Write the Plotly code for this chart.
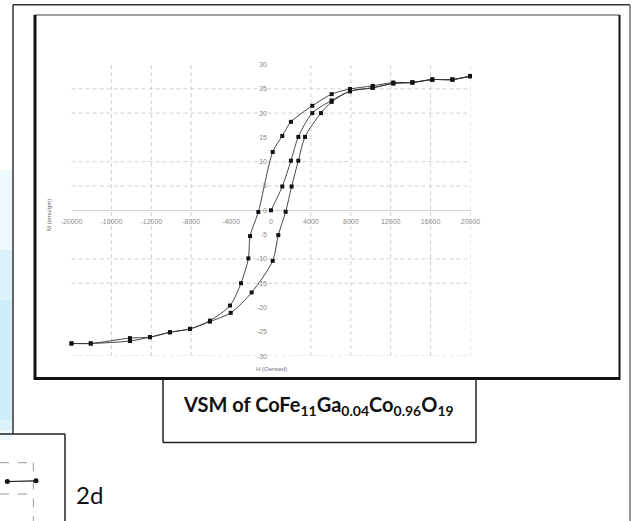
import plotly.graph_objects as go

# ---------------- data ----------------
# initial magnetisation curve
init_H = [0, 1130, 2000, 2740, 4140, 6080, 7920, 10190, 12260, 14170, 16170, 18180, 19950]
init_M = [0, 4.9, 10.2, 15.1, 20.0, 22.6, 24.5, 25.2, 26.1, 26.3, 26.9, 26.9, 27.6]

# descending branch (+H -> -H)
desc_H = [19950, 18180, 16170, 14170, 12260, 10190, 7920, 6080, 4140, 2000, 1130, 170,
          -1270, -2100, -2270, -3010, -4110, -6120, -8120, -10130, -12130, -14140, -18070, -20000]
desc_M = [27.6, 26.9, 26.9, 26.3, 26.3, 25.6, 24.95, 23.9, 21.5, 18.2, 15.3, 12.0,
          -0.35, -5.3, -9.9, -15.0, -19.6, -22.7, -24.4, -25.1, -26.1, -26.3, -27.4, -27.4]

# ascending branch (-H -> +H)
asc_H = [-20000, -18070, -14140, -12130, -10130, -8120, -6120, -4040, -1940, 170, 730, 1470,
         2070, 2740, 3410, 5010, 6080, 7920, 10190, 12260, 14170, 16170, 18180, 19950]
asc_M = [-27.4, -27.4, -26.9, -26.1, -25.1, -24.4, -22.9, -21.1, -16.9, -10.4, -5.1, -0.3,
         4.9, 10.2, 15.1, 20.0, 22.3, 24.5, 25.2, 26.1, 26.3, 26.9, 26.9, 27.6]

x_ticks = [-20000, -16000, -12000, -8000, -4000, 0, 4000, 8000, 12000, 16000, 20000]
x_ticktext = ["-20000", "-16000", "-12000", "-8000", "-4000", "0", "4000", "8000", "12000", "16000", "20000"]
y_ticks = [-30, -25, -20, -15, -10, -5, 0, 5, 10, 15, 20, 25, 30]
y_ticktext = ["-30", "-25", "-20", "-15", "-10", "-5", "0", "5", "10", "15", "20", "25", "30"]

grid_y = [25, 20, 10, 5, -10, -15, -30]
grid_x = [-16000, -12000, -8000, 4000, 8000, 12000, 16000, 20000]

# fragment of a neighbouring chart (bottom-left)
frag_H = [16100, 20400]
frag_M = [27.0, 27.1]
frag_grid_y = [30, 25]
frag_grid_x = [20000]

caption = "VSM of CoFe<sub>11</sub>Ga<sub>0.04</sub>Co<sub>0.96</sub>O<sub>19</sub>"
x_title = "H (Oersted)"
y_title = "M (emu/gm)"
side_label = "2d"

# ---------------- layout helpers ----------------
W, H = 640, 521
def px(p):
    return p / W
def py(p):
    return 1 - p / H

fig = go.Figure()

line_style = dict(color="#333333", width=0.9)
marker_style = dict(color="#111", size=4, symbol="square")

for hx, my in [(init_H, init_M), (desc_H, desc_M), (asc_H, asc_M)]:
    fig.add_trace(go.Scatter(x=hx, y=my, mode="lines+markers",
                             line=dict(shape="spline", smoothing=0.8, **line_style),
                             marker=marker_style, showlegend=False,
                             xaxis="x", yaxis="y", cliponaxis=False))

fig.add_trace(go.Scatter(x=frag_H, y=frag_M, mode="lines+markers",
                         line=dict(color="#111", width=1.2),
                         marker=dict(color="#111", size=5, symbol="circle"),
                         showlegend=False, xaxis="x2", yaxis="y2", cliponaxis=False))

shapes = []
grid_line = dict(color="#d0d0d0", width=1, dash="4px,3px")
for gy in grid_y:
    shapes.append(dict(type="line", xref="x", yref="y", x0=-20000, x1=20000, y0=gy, y1=gy,
                       line=grid_line, layer="below"))
for gx in grid_x:
    shapes.append(dict(type="line", xref="x", yref="y", x0=gx, x1=gx, y0=-30, y1=30,
                       line=grid_line, layer="below"))
for gy in frag_grid_y:
    shapes.append(dict(type="line", xref="x2", yref="y2", x0=15000, x1=20000, y0=gy, y1=gy,
                       line=dict(color="#999", width=1, dash="dash"), layer="below"))
for gx in frag_grid_x:
    shapes.append(dict(type="line", xref="x2", yref="y2", x0=gx, x1=gx, y0=20, y1=30,
                       line=dict(color="#999", width=1, dash="dash"), layer="below"))

def pline(x0, y0, x1, y1, color="#222", width=1.5):
    shapes.append(dict(type="line", xref="paper", yref="paper",
                       x0=px(x0), y0=py(y0), x1=px(x1), y1=py(y1),
                       line=dict(color=color, width=width)))

# faint blue glow at the left edge
for (a, b, c) in [(170, 440, "rgba(205,235,248,0.35)"), (250, 430, "rgba(195,232,248,0.45)"),
                  (300, 420, "rgba(190,230,248,0.45)")]:
    shapes.append(dict(type="rect", xref="paper", yref="paper", x0=px(0), x1=px(12.5),
                       y0=py(b), y1=py(a), fillcolor=c, line=dict(width=0), layer="below"))

# outer frame
pline(13, 4.8, 630, 4.8, "#333", 1.5)
pline(13, 4.8, 13, 434, "#333", 1.5)
pline(630, 4.8, 630, 521, "#555", 1.2)
# chart box
pline(34.5, 15, 619.5, 15, "#444", 1)
pline(35, 15, 35, 380, "#111", 3)
pline(34, 378.5, 620, 378.5, "#111", 3)
pline(619.5, 15, 619.5, 380, "#111", 2)
# caption box
pline(163, 379, 163, 442.5, "#222", 1.5)
pline(163, 442.5, 476, 442.5, "#222", 1.5)
pline(476, 379, 476, 442.5, "#222", 1.5)
# bottom-left box
pline(0, 434, 65, 434, "#222", 1.5)
pline(65, 434, 65, 521, "#222", 1.5)

tick_font = dict(family="Liberation Sans, Arial, sans-serif", size=7, color="#8a8a8a")

fig.update_layout(
    width=W, height=H, autosize=False,
    margin=dict(l=0, r=0, t=0, b=0, pad=0, autoexpand=False),
    paper_bgcolor="white", plot_bgcolor="rgba(0,0,0,0)",
    showlegend=False,
    xaxis=dict(domain=[px(71.5), px(470.5)], range=[-20000, 20000],
               anchor="free", position=py(210.3), automargin=False,
               tickmode="array", tickvals=x_ticks, ticktext=x_ticktext,
               ticks="", showgrid=False, zeroline=False, showline=False,
               tickfont=tick_font, ticklabelstandoff=6),
    yaxis=dict(domain=[py(356.1), py(64.5)], range=[-30, 30],
               anchor="free", position=px(271), automargin=False,
               tickmode="array", tickvals=y_ticks, ticktext=y_ticktext,
               ticks="", showgrid=False, zeroline=True, zerolinecolor="#cfcfcf", zerolinewidth=1,
               showline=False, tickfont=tick_font, ticklabelstandoff=4),
    xaxis2=dict(domain=[0, px(40)], range=[15000, 21000], visible=False, anchor="y2", automargin=False),
    yaxis2=dict(domain=[0, py(434)], range=[20.69, 34.58], visible=False, anchor="x2", automargin=False),
    shapes=shapes,
    annotations=[
        dict(text=x_title, xref="paper", yref="paper", x=px(271), y=py(369),
             xanchor="center", yanchor="middle",
             showarrow=False, font=dict(family="Liberation Sans, Arial", size=6, color="#6a7080")),
        dict(text=y_title, xref="paper", yref="paper", x=px(49), y=py(215), textangle=-90,
             xanchor="center", yanchor="middle",
             showarrow=False, font=dict(family="Liberation Sans, Arial", size=6, color="#6a6a6a")),
        dict(text="<b>" + caption + "</b>", xref="paper", yref="paper", x=px(318), y=py(405),
             xanchor="center", yanchor="middle",
             showarrow=False, font=dict(family="Lato, Carlito, sans-serif", size=20, color="#111")),
        dict(text=side_label, xref="paper", yref="paper", x=px(89), y=py(494),
             xanchor="center", yanchor="middle",
             showarrow=False, font=dict(family="Lato, Carlito, sans-serif", size=24, color="#111")),
    ],
)

fig.write_html("out.html",
               config={"displayModeBar": False, "staticPlot": True},
               post_script="document.body.style.margin='0';document.body.style.overflow='hidden';")
